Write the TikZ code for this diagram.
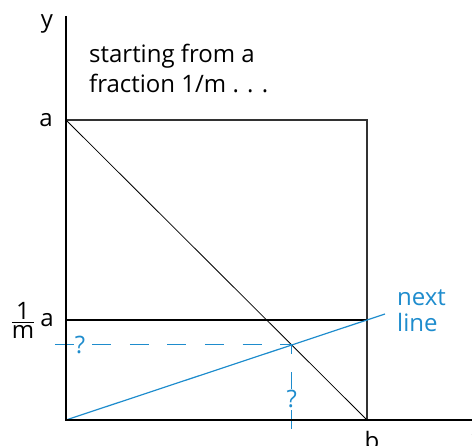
\documentclass[tikz,border=0pt]{standalone}
\usepackage{fontspec}
\setmainfont{Open Sans}
\definecolor{lineblue}{RGB}{30,140,205}
\definecolor{boxgray}{RGB}{50,50,50}
\tikzset{
  lbl/.style={inner sep=1pt},
  bluelbl/.style={lbl, text=lineblue},
  qmark/.style={bluelbl, fill=white},
  guide/.style={lineblue, line width=1.2pt, dash pattern=on 19pt off 18.5pt}
}
\begin{document}
\begin{tikzpicture}[x=1pt,y=1pt,font=\fontsize{24}{28}\selectfont]
\useasboundingbox (-66,-26) rectangle (406,420);
% corners of the square and the axes
\coordinate (O) at (0,0);
\coordinate (A) at (0,300);
\coordinate (C) at (301,300);
\coordinate (B) at (301,0);
\coordinate (Am) at (0,100);
\coordinate (Cm) at (301,100);
\coordinate (ytip) at (0,404);
\coordinate (xtip) at (406,0);
\coordinate (P) at (225.75,75.25);
\coordinate (nextend) at (319,106);
\coordinate (hstart) at (-11,75.25);
\coordinate (vstart) at (225.75,-9);
% square and diagonal
\draw[boxgray, line width=1.2pt] (A) -- (C) -- (B);
\draw[line width=0.8pt] (A) -- (B);
\draw[line width=2.4pt] (Am) -- (Cm);
% next line and the guides
\draw[lineblue, line width=1.2pt] (O) -- (nextend);
\draw[guide] (hstart) -- (P);
\draw[guide] (vstart) -- (P);
\node[qmark] (qy) at (14,75.25) {?};
\node[qmark] (qx) at (225.75,21) {?};
% axes
\draw[line width=2.4pt] (ytip) -- (O) -- (xtip);
% labels
\node[lbl, anchor=base] (ylbl) at (-19,392) {y};
\node[lbl] (albl) at (-20,300) {a};
\node[lbl] (frac) at (-43,100) {${\mbox{1}\above1.5pt\mbox{m}}$};
\node[lbl] (amlbl) at (-19,100) {a};
\node[lbl, anchor=north] (blbl) at (306,-10) {b};
\node[lbl, anchor=base west] (xlbl) at (404,-28) {x};
\node[lbl, anchor=base west] (start1) at (22,357) {starting from a};
\node[lbl, anchor=base west] (start2) at (22,327) {fraction 1/m . . .};
\node[bluelbl, anchor=base west] (next1) at (330,114) {next};
\node[bluelbl, anchor=base west] (next2) at (330,88) {line};
\end{tikzpicture}
\end{document}
